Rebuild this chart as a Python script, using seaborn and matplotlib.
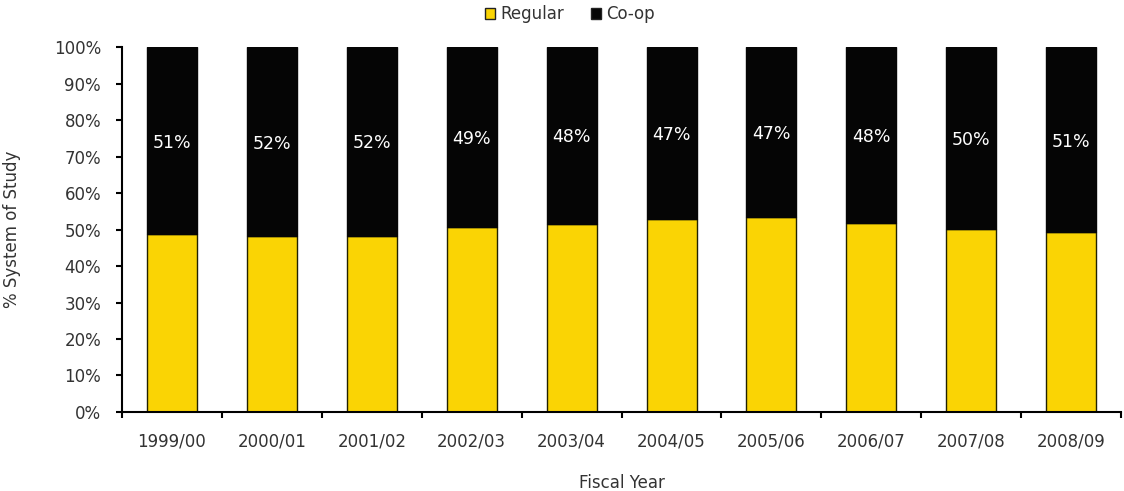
import numpy as np
import matplotlib
matplotlib.use("Agg")
import matplotlib.pyplot as plt
import seaborn as sns
from matplotlib.patches import Patch
from matplotlib.ticker import MultipleLocator, FixedLocator

years = ["1999/00", "2000/01", "2001/02", "2002/03", "2003/04",
         "2004/05", "2005/06", "2006/07", "2007/08", "2008/09"]
regular = [48.7, 48.1, 48.2, 50.7, 51.6, 52.9, 53.4, 51.9, 50.1, 49.2]
coop = [51.3, 51.9, 51.8, 49.3, 48.4, 47.1, 46.6, 48.1, 49.9, 50.8]

yellow = "#FAD404"
black = "#050505"
txt = "#333333"
fs = 12

sns.set_style("white")
plt.rcParams["font.family"] = ["DejaVu Sans"]

fig = plt.figure(figsize=(11.24, 4.91), dpi=100)
ax = fig.add_axes([0.1085, 0.161, 0.889, 0.743])

sns.barplot(x=years, y=regular, color=yellow, width=0.5, edgecolor="#222200",
            linewidth=1, saturation=1, errorbar=None, ax=ax)
sns.barplot(x=years, y=coop, bottom=regular, color=black, width=0.5,
            edgecolor=black, linewidth=1, saturation=1, errorbar=None, ax=ax)

# labels on the co-op part
for i, (r, c) in enumerate(zip(regular, coop)):
    ax.text(i, r + c / 2 - 0.5, f"{round(c)}%", ha="center", va="center",
            color="white", fontsize=12.5)

ax.set_xlim(-0.5, len(years) - 0.5)
ax.set_ylim(0, 100)
ax.yaxis.set_major_locator(MultipleLocator(10))
ax.set_yticklabels([f"{int(v)}%" for v in ax.get_yticks()])

# category boundaries as tick marks, labels in between
ax.xaxis.set_major_locator(FixedLocator(np.arange(-0.5, len(years), 1)))
ax.xaxis.set_minor_locator(FixedLocator(np.arange(len(years))))
ax.set_xticklabels([], minor=False)
ax.set_xticklabels(years, minor=True)
ax.tick_params(axis="x", which="major", length=4, width=1.5, direction="out",
               bottom=True, color="black")
ax.tick_params(axis="x", which="minor", length=0, pad=15, labelsize=fs,
               labelcolor=txt)
ax.tick_params(axis="y", length=4, width=1.5, direction="out", left=True,
               pad=11, labelsize=fs, labelcolor=txt, color="black")

for s in ["top", "right"]:
    ax.spines[s].set_visible(False)
for s in ["left", "bottom"]:
    ax.spines[s].set_color("black")
    ax.spines[s].set_linewidth(1.5)

ax.set_xlabel("Fiscal Year", fontsize=fs, color=txt, labelpad=17)
ax.set_ylabel("% System of Study", fontsize=fs, color=txt, labelpad=24)

handles = [Patch(facecolor=yellow, edgecolor="#222222", label="Regular"),
           Patch(facecolor=black, edgecolor="#222222", label="Co-op")]
fig.legend(handles=handles, loc="upper center", bbox_to_anchor=(0.507, 1.02),
           ncol=2, frameon=False, fontsize=fs, handlelength=0.6,
           handleheight=0.6, handletextpad=0.3, columnspacing=1.6,
           labelcolor=txt)

plt.savefig("out.png", dpi=100)
